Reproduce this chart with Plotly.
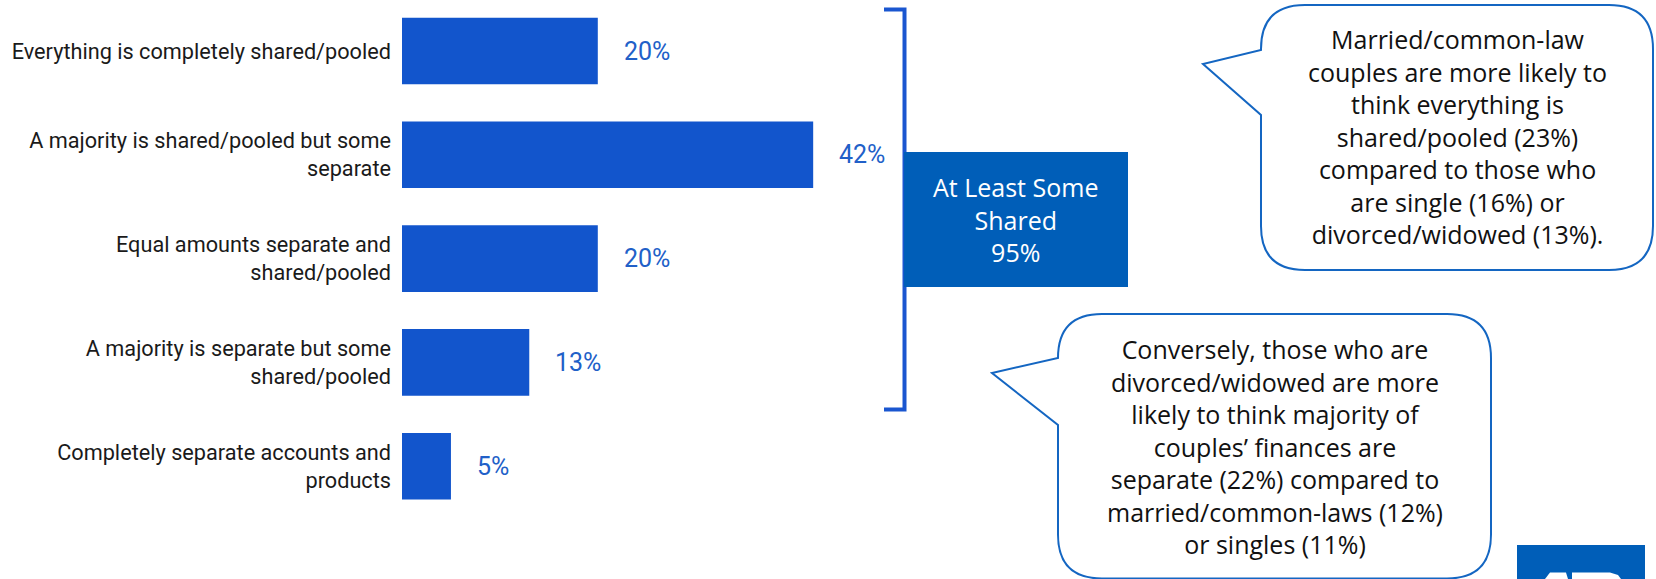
import plotly.graph_objects as go

# Survey responses: how couples' finances are organised
categories = [
    "Everything is completely shared/pooled",
    "A majority is shared/pooled but some<br>separate",
    "Equal amounts separate and<br>shared/pooled",
    "A majority is separate but some<br>shared/pooled",
    "Completely separate accounts and<br>products",
]
values = [20, 42, 20, 13, 5]
value_labels = ["20%", "42%", "20%", "13%", "5%"]

summary_lines = ["At Least Some", "Shared", "95%"]
callout_top_lines = [
    "Married/common-law",
    "couples are more likely to",
    "think everything is",
    "shared/pooled (23%)",
    "compared to those who",
    "are single (16%) or",
    "divorced/widowed (13%).",
]
callout_bottom_lines = [
    "Conversely, those who are",
    "divorced/widowed are more",
    "likely to think majority of",
    "couples\u2019 finances are",
    "separate (22%) compared to",
    "married/common-laws (12%)",
    "or singles (11%)",
]

W, H = 1656, 579
BAR_BLUE = "#1255CC"
LABEL_BLUE = "#2160C8"
BOX_BLUE = "#005EB8"
LINE_BLUE = "#1466C2"
TEXT_FONT = "Open Sans"


def px(x):
    return x / W


def py(y):
    return 1 - y / H


def path(points, close=True):
    s = "M " + " L ".join(f"{px(x):.5f},{py(y):.5f}" for x, y in points)
    return s + (" Z" if close else "")


def bubble(left, right, top, bottom, r, tip, p_top, p_bot):
    """Rounded speech bubble with a pointer on its left side."""
    def P(x, y):
        return f"{px(x):.5f},{py(y):.5f}"
    d = [
        f"M {P(left + r, top)}",
        f"L {P(right - r, top)}",
        f"Q {P(right, top)} {P(right, top + r)}",
        f"L {P(right, bottom - r)}",
        f"Q {P(right, bottom)} {P(right - r, bottom)}",
        f"L {P(left + r, bottom)}",
        f"Q {P(left, bottom)} {P(left, bottom - r)}",
        f"L {P(left, p_bot)}",
        f"L {P(tip[0], tip[1])}",
        f"L {P(left, p_top)}",
        f"L {P(left, top + r)}",
        f"Q {P(left, top)} {P(left + r, top)}",
        "Z",
    ]
    return " ".join(d)


def text_block(lines, cx, cy, size, color):
    """A centred multi-line annotation."""
    return dict(
        x=px(cx), y=py(cy), xref="paper", yref="paper",
        text="<br>".join(lines), showarrow=False, align="center",
        xanchor="center", yanchor="middle",
        font=dict(family=TEXT_FONT, size=size, color=color),
    )


fig = go.Figure()
fig.add_trace(go.Bar(
    y=categories,
    x=values,
    orientation="h",
    marker=dict(color=BAR_BLUE, line=dict(width=0)),
    hoverinfo="skip",
))

annotations = []
for cat, v, lab in zip(categories, values, value_labels):
    annotations.append(dict(
        x=v, y=cat, xref="x", yref="y", text=lab, showarrow=False,
        xanchor="left", yanchor="middle", xshift=24,
        font=dict(family="Roboto", size=25, color=LABEL_BLUE),
    ))

annotations.append(text_block(summary_lines, 1016, 219.5, 25, "white"))
annotations.append(text_block(callout_top_lines, 1457, 136, 25, "#111111"))
annotations.append(text_block(callout_bottom_lines, 1275, 446.5, 25, "#111111"))

shapes = [
    # bracket grouping the first four answers
    dict(type="path", xref="paper", yref="paper",
         path=path([(884, 9.5), (904.5, 9.5), (904.5, 409.5), (884, 409.5)], close=False),
         line=dict(color="#1A56D0", width=4)),
    # summary box
    dict(type="rect", xref="paper", yref="paper",
         x0=px(904), x1=px(1128), y0=py(287), y1=py(152),
         fillcolor=BOX_BLUE, line=dict(width=0)),
    # speech bubbles
    dict(type="path", xref="paper", yref="paper",
         path=bubble(1261, 1653, 5, 270, 44, (1203, 64), 50, 115),
         fillcolor="white", line=dict(color=LINE_BLUE, width=2)),
    dict(type="path", xref="paper", yref="paper",
         path=bubble(1058, 1491, 314, 578.5, 44, (992, 373), 358, 425),
         fillcolor="white", line=dict(color=LINE_BLUE, width=2)),
    # logo tile in the corner
    dict(type="rect", xref="paper", yref="paper",
         x0=px(1517), x1=px(1645), y0=py(579), y1=py(545),
         fillcolor=BOX_BLUE, line=dict(width=0)),
    dict(type="path", xref="paper", yref="paper",
         path=path([(1545, 579), (1550, 572.5), (1566, 572.5), (1568, 579)]),
         fillcolor="white", line=dict(width=0)),
    dict(type="path", xref="paper", yref="paper",
         path=path([(1572, 579), (1572, 572.5), (1610, 572.5), (1618, 575), (1621, 579)]),
         fillcolor="white", line=dict(width=0)),
]

px_per_pct = 9.79
x_left = 402
y_first, y_step = 51, 103.8

fig.update_layout(
    width=W, height=H,
    margin=dict(l=0, r=0, t=0, b=0),
    paper_bgcolor="white", plot_bgcolor="white",
    showlegend=False,
    bargap=0.358,
    xaxis=dict(domain=[x_left / W, 1], range=[0, (W - x_left) / px_per_pct],
               visible=False, fixedrange=True),
    yaxis=dict(type="category", categoryorder="array", categoryarray=categories,
               range=[-y_first / y_step + H / y_step, -y_first / y_step],
               showgrid=False, zeroline=False, showline=False, ticks="",
               ticklabelstandoff=10, automargin=False,
               tickfont=dict(family="Roboto", size=21.7, color="#1a1a1a"),
               fixedrange=True),
    annotations=annotations,
    shapes=shapes,
)

fig.write_html("out.html", config=dict(displayModeBar=False))
